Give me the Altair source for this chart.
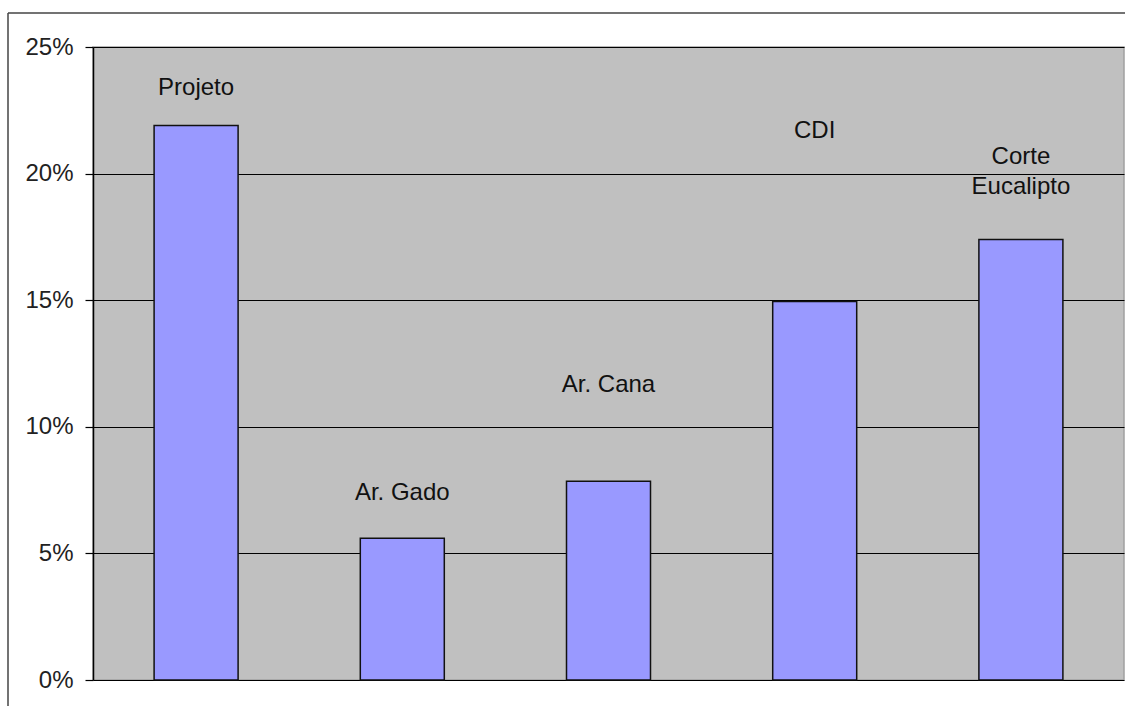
import altair as alt
import pandas as pd

categories = ["Projeto", "Ar. Gado", "Ar. Cana", "CDI", "Corte Eucalipto"]
values = [0.219, 0.056, 0.0785, 0.1495, 0.174]
label_texts = ["Projeto", "Ar. Gado", "Ar. Cana", "CDI", "Corte\nEucalipto"]
label_heights = [0.234, 0.074, 0.1165, 0.217, 0.2065]
y_ticks = [0, 0.05, 0.10, 0.15, 0.20, 0.25]

df = pd.DataFrame({"cat": categories, "val": values,
                   "label": label_texts, "ly": label_heights})

FONT = "Liberation Sans"

x = alt.X("cat:N", sort=categories, axis=None,
          scale=alt.Scale(paddingInner=0, paddingOuter=0))
yscale = alt.Scale(domain=[0, 0.25], nice=False)

bars = alt.Chart(df).mark_bar(
    color="#9999FF", stroke="#111111", strokeWidth=1.5, size=84
).encode(
    x=x,
    y=alt.Y("val:Q", scale=yscale,
            axis=alt.Axis(values=y_ticks, format=".0%", title=None,
                          grid=True, gridColor="#000000", gridWidth=1,
                          domain=True, domainColor="#000000", domainWidth=1.5,
                          ticks=True, tickColor="#000000", tickSize=8,
                          tickWidth=1.2,
                          labelFont=FONT, labelFontSize=24, labelColor="#222222",
                          labelPadding=12))
)

labels = alt.Chart(df).mark_text(
    font=FONT, fontSize=24, color="#111111", baseline="middle",
    lineBreak="\n", lineHeight=30
).encode(
    x=x,
    y=alt.Y("ly:Q", scale=yscale),
    text="label:N"
)

frame_df = pd.DataFrame({"a": [0]})
frame_left = alt.Chart(frame_df).mark_rule(color="#444444", strokeWidth=1.5).encode(
    x=alt.value(-85), y=alt.value(-34), y2=alt.value(665))
frame_top = alt.Chart(frame_df).mark_rule(color="#444444", strokeWidth=1.5).encode(
    x=alt.value(-85), x2=alt.value(1040), y=alt.value(-34))

chart = alt.layer(bars, labels, frame_left, frame_top).properties(
    width=1031, height=633,
    autosize=alt.AutoSizeParams(type="none"),
    padding={"left": 93, "top": 47, "right": 1, "bottom": 26},
    background="#FFFFFF"
).configure_view(
    fill="#C0C0C0", stroke="#A0A0A0", strokeWidth=1.5
)

chart.save("out.html", embed_options={"renderer": "svg", "actions": False})
